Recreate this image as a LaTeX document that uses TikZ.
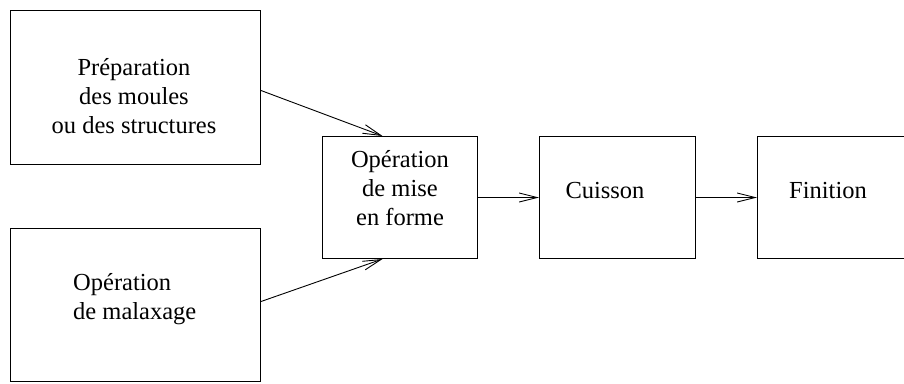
\documentclass[tikz,border=0pt]{standalone}
\usepackage{fontspec}
\setmainfont{Liberation Serif}
\usetikzlibrary{arrows.meta,calc}
\tikzset{
  box/.style={draw=black, line width=1bp, rectangle, inner sep=0pt, anchor=north west},
  lbl/.style={inner sep=0pt, font=\fontsize{24.5bp}{29bp}\selectfont},
  conn/.style={draw=black, line width=0.9bp, -{Straight Barb[length=18bp,width=9bp,line width=0.9bp]}}
}
\begin{document}
\begin{tikzpicture}[x=1bp,y=-1bp]
\useasboundingbox (0,0) rectangle (904,383);
\node[box, minimum width=250bp, minimum height=154bp] (b1) at (10,10) {};
\node[box, minimum width=250bp, minimum height=153bp] (b2) at (10,228) {};
\node[box, minimum width=155bp, minimum height=122bp] (b3) at (322,136) {};
\node[box, minimum width=156bp, minimum height=122bp] (b4) at (539,136) {};
\node[box, minimum width=170bp, minimum height=122bp] (b5) at (757,136) {};
\node[lbl, anchor=base, align=center] (t1) at (134,133) {Préparation\\des moules\\ou des structures};
\node[lbl, anchor=base west, align=left] (t2) at (73,319) {Opération\\de malaxage};
\node[lbl, anchor=base, align=center] (t3) at (400,225) {Opération\\de mise\\en forme};
\node[lbl, anchor=base] (t4) at (605,198) {Cuisson};
\node[lbl, anchor=base west] (t5) at (789,198) {Finition};
\draw[conn] ([yshift=-3bp]b1.east) -- ([xshift=-17.5bp]b3.north);
\draw[conn] ([yshift=3.5bp]b2.east) -- ([xshift=-17.5bp]b3.south);
\draw[conn] (b3.east) -- (b4.west);
\draw[conn] (b4.east) -- (b5.west);
\end{tikzpicture}
\end{document}
